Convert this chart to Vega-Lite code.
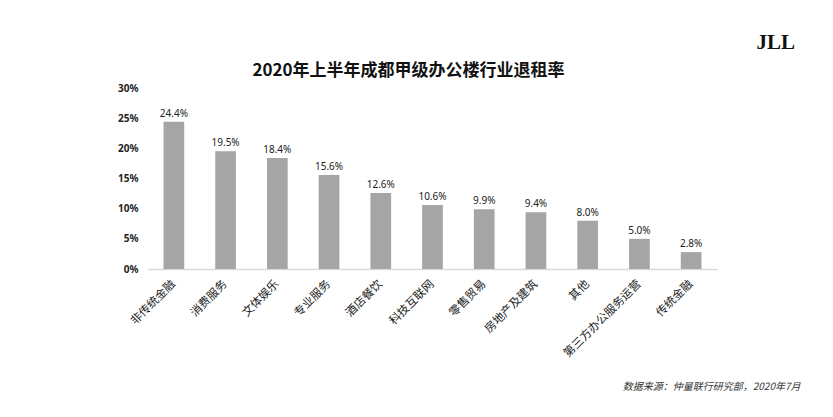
{
  "$schema": "https://vega.github.io/schema/vega-lite/v6.json",
  "autosize": {"type": "none"},
  "width": 569,
  "height": 181,
  "padding": {"left": 148, "top": 88, "right": 116, "bottom": 148},
  "background": "white",
  "title": {
    "text": "2020年上半年成都甲级办公楼行业退租率",
    "font": "Noto Sans CJK SC",
    "fontSize": 17,
    "fontWeight": "bold",
    "color": "#111111",
    "anchor": "middle",
    "dx": -24,
    "dy": 58,
    "offset": 9
  },
  "data": {
    "values": [
      {"industry": "非传统金融", "rate": 0.244},
      {"industry": "消费服务", "rate": 0.195},
      {"industry": "文体娱乐", "rate": 0.184},
      {"industry": "专业服务", "rate": 0.156},
      {"industry": "酒店餐饮", "rate": 0.126},
      {"industry": "科技互联网", "rate": 0.106},
      {"industry": "零售贸易", "rate": 0.099},
      {"industry": "房地产及建筑", "rate": 0.094},
      {"industry": "其他", "rate": 0.080},
      {"industry": "第三方办公服务运营", "rate": 0.050},
      {"industry": "传统金融", "rate": 0.028}
    ]
  },
  "encoding": {
    "x": {
      "field": "industry",
      "type": "nominal",
      "sort": null,
      "scale": {"paddingInner": 0.6, "paddingOuter": 0.3},
      "axis": {
        "title": "数据来源：仲量联行研究部，2020年7月",
        "titleFont": "Noto Sans CJK SC",
        "titleFontStyle": "italic",
        "titleFontWeight": "normal",
        "titleFontSize": 10,
        "titleColor": "#333333",
        "titleAnchor": "start",
        "titleAlign": "right",
        "titleBaseline": "alphabetic",
        "titleX": 652,
        "titleY": 120,
        "labelAngle": -45,
        "labelAlign": "right",
        "labelBaseline": "middle",
        "labelFont": "Noto Sans CJK SC",
        "labelFontSize": 11.5,
        "labelColor": "#222222",
        "labelPadding": 13,
        "labelOverlap": false,
        "ticks": false,
        "domainColor": "#D9D9D9",
        "domainWidth": 1.5,
        "grid": false
      }
    },
    "y": {
      "field": "rate",
      "type": "quantitative",
      "scale": {"domain": [0, 0.3]},
      "axis": {
        "title": "JLL",
        "titleFont": "Liberation Serif",
        "titleFontSize": 21,
        "titleFontWeight": "bold",
        "titleColor": "#111111",
        "titleAngle": 0,
        "titleAlign": "left",
        "titleBaseline": "middle",
        "titleX": 608,
        "titleY": -46,
        "format": ".0%",
        "values": [0, 0.05, 0.1, 0.15, 0.2, 0.25, 0.3],
        "labelFont": "Noto Sans",
        "labelFontSize": 10,
        "labelFontWeight": "bold",
        "labelColor": "#222222",
        "labelPadding": 10,
        "labelOverlap": false,
        "ticks": false,
        "domain": false,
        "grid": false
      }
    }
  },
  "layer": [
    {"mark": {"type": "bar", "color": "#A5A5A5"}},
    {
      "mark": {"type": "text", "dy": -8, "font": "Noto Sans", "fontSize": 10, "color": "#222222"},
      "encoding": {"text": {"field": "rate", "type": "quantitative", "format": ".1%"}}
    }
  ],
  "config": {"view": {"stroke": null}}
}
